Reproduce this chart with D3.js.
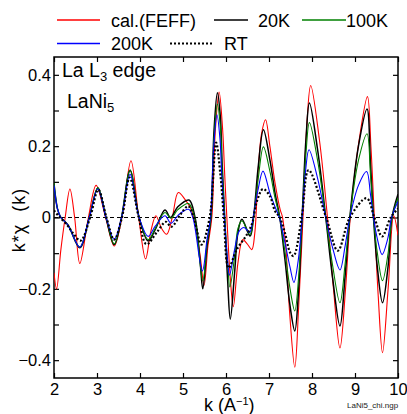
<!DOCTYPE html>
<html>
<head>
<meta charset="utf-8">
<script src="https://cdn.jsdelivr.net/npm/d3@7"></script>
<style>
  body { margin: 0; background: #fff; }
  svg { display: block; font-family: "Liberation Sans", Arial, sans-serif; }
</style>
</head>
<body>
<div id="chart1"><svg width="407" height="414"></svg></div>
<script>
// k (1/A) and k*chi(k), one pair of arrays per curve
const FEFF_K = [2.0, 2.06, 2.16, 2.26, 2.37, 2.48, 2.6, 2.8, 2.98, 3.2, 3.4, 3.58, 3.79, 3.97, 4.13, 4.25, 4.37, 4.5, 4.62, 4.75, 4.89, 5.05, 5.18, 5.28, 5.4, 5.49, 5.58, 5.67, 5.75, 5.84, 5.92, 5.97, 6.02, 6.1, 6.17, 6.28, 6.39, 6.5, 6.6, 6.67, 6.75, 6.83, 6.92, 7.02, 7.14, 7.26, 7.31, 7.39, 7.48, 7.6, 7.69, 7.79, 7.88, 7.97, 8.17, 8.36, 8.5, 8.65, 8.78, 8.89, 9.1, 9.29, 9.37, 9.45, 9.54, 9.64, 9.77, 9.9, 10.0];
const FEFF_CHI = [-0.155, -0.2, -0.09, 0.0, 0.08, 0.0, -0.129, 0.0, 0.09, 0.0, -0.08, 0.0, 0.159, 0.0, -0.116, -0.04, 0.005, -0.03, -0.047, 0.0, 0.07, 0.05, 0.025, -0.015, -0.108, -0.19, -0.08, 0.0, 0.24, 0.352, 0.25, 0.12, 0.0, -0.17, -0.25, -0.125, -0.062, -0.075, -0.09, -0.043, 0.134, 0.237, 0.274, 0.2, 0.097, 0.022, 0.003, -0.08, -0.267, -0.42, -0.25, 0.0, 0.26, 0.37, 0.22, 0.0, -0.2, -0.366, -0.2, 0.0, 0.22, 0.339, 0.2, 0.0, -0.22, -0.379, -0.2, 0.005, -0.05];

const K20_K = [2.0, 2.08, 2.15, 2.33, 2.6, 2.82, 3.02, 3.21, 3.4, 3.57, 3.77, 3.98, 4.19, 4.35, 4.58, 4.71, 4.88, 5.14, 5.28, 5.4, 5.46, 5.56, 5.65, 5.72, 5.8, 5.87, 5.91, 5.97, 6.04, 6.1, 6.2, 6.28, 6.37, 6.56, 6.64, 6.75, 6.87, 7.02, 7.14, 7.25, 7.37, 7.49, 7.6, 7.69, 7.77, 7.86, 7.94, 8.13, 8.32, 8.48, 8.65, 8.77, 8.88, 9.08, 9.28, 9.36, 9.43, 9.52, 9.64, 9.77, 9.86, 10.0];
const K20_CHI = [0.095, 0.025, 0.002, -0.022, -0.085, 0.0, 0.083, 0.0, -0.076, 0.0, 0.132, 0.0, -0.066, -0.035, 0.021, 0.0, 0.03, 0.049, 0.0, -0.127, -0.2, -0.08, 0.0, 0.24, 0.35, 0.28, 0.15, 0.0, -0.18, -0.285, -0.155, -0.04, -0.005, -0.052, 0.0, 0.143, 0.246, 0.162, 0.069, 0.0, -0.117, -0.248, -0.318, -0.2, 0.0, 0.22, 0.321, 0.19, 0.0, -0.17, -0.304, -0.164, 0.0, 0.2, 0.304, 0.15, 0.0, -0.14, -0.239, -0.136, 0.0, 0.065];

const K100_K = [2.0, 2.08, 2.15, 2.33, 2.6, 2.82, 3.02, 3.21, 3.4, 3.57, 3.77, 3.98, 4.19, 4.35, 4.58, 4.72, 4.88, 5.13, 5.27, 5.46, 5.56, 5.65, 5.72, 5.8, 5.87, 5.91, 5.97, 6.04, 6.09, 6.2, 6.28, 6.37, 6.56, 6.64, 6.75, 6.87, 7.02, 7.14, 7.25, 7.37, 7.49, 7.6, 7.69, 7.77, 7.86, 7.94, 8.13, 8.32, 8.48, 8.65, 8.77, 8.88, 9.08, 9.28, 9.36, 9.43, 9.52, 9.64, 9.77, 9.86, 10.0];
const K100_CHI = [0.097, 0.025, 0.002, -0.022, -0.083, 0.0, 0.083, 0.0, -0.074, 0.0, 0.134, 0.0, -0.062, -0.032, 0.014, -0.002, 0.022, 0.039, 0.0, -0.178, -0.07, 0.0, 0.22, 0.318, 0.25, 0.13, 0.0, -0.13, -0.195, -0.11, -0.03, -0.009, -0.048, 0.0, 0.11, 0.198, 0.13, 0.055, 0.0, -0.095, -0.2, -0.262, -0.165, 0.0, 0.18, 0.266, 0.16, 0.0, -0.135, -0.239, -0.13, 0.0, 0.16, 0.235, 0.12, 0.0, -0.1, -0.177, -0.1, 0.0, 0.055];

const K200_K = [2.0, 2.08, 2.15, 2.33, 2.6, 2.82, 3.02, 3.21, 3.4, 3.57, 3.77, 3.98, 4.19, 4.35, 4.58, 4.72, 4.9, 5.13, 5.23, 5.45, 5.56, 5.64, 5.71, 5.79, 5.86, 5.9, 5.96, 6.03, 6.08, 6.2, 6.3, 6.42, 6.55, 6.63, 6.74, 6.86, 7.02, 7.14, 7.24, 7.37, 7.49, 7.58, 7.68, 7.77, 7.85, 7.93, 8.13, 8.32, 8.48, 8.65, 8.77, 8.88, 9.08, 9.27, 9.36, 9.43, 9.52, 9.63, 9.76, 9.85, 10.0];
const K200_CHI = [0.09, 0.025, 0.002, -0.022, -0.083, 0.0, 0.08, 0.0, -0.061, 0.0, 0.121, 0.0, -0.053, -0.025, 0.005, -0.016, 0.008, 0.023, 0.0, -0.15, -0.06, 0.0, 0.19, 0.288, 0.22, 0.12, 0.0, -0.11, -0.162, -0.09, -0.04, -0.028, -0.042, 0.0, 0.075, 0.13, 0.069, 0.03, 0.0, -0.07, -0.14, -0.182, -0.12, 0.0, 0.13, 0.19, 0.11, 0.0, -0.085, -0.147, -0.08, 0.0, 0.09, 0.129, 0.065, 0.0, -0.06, -0.104, -0.06, 0.0, 0.045];

const RT_K = [2.0, 2.1, 2.3, 2.45, 2.62, 2.84, 3.03, 3.22, 3.4, 3.58, 3.76, 3.97, 4.15, 4.4, 4.6, 4.73, 4.95, 5.12, 5.25, 5.43, 5.62, 5.77, 5.87, 5.95, 6.06, 6.25, 6.5, 6.62, 6.71, 6.86, 7.02, 7.14, 7.25, 7.37, 7.49, 7.57, 7.76, 7.92, 8.33, 8.6, 8.88, 9.27, 9.45, 9.63, 9.83, 10.0];
const RT_CHI = [0.02, 0.005, -0.02, -0.045, -0.065, 0.0, 0.078, 0.0, -0.062, 0.0, 0.112, 0.0, -0.075, -0.04, -0.012, -0.026, 0.01, 0.032, 0.0, -0.076, 0.0, 0.21, 0.12, 0.0, -0.141, -0.09, -0.045, -0.012, 0.042, 0.08, 0.06, 0.018, 0.0, -0.043, -0.098, -0.108, 0.0, 0.133, 0.0, -0.093, 0.0, 0.054, 0.0, -0.053, 0.0, 0.025];

const SERIES_NAMES = ['cal.(FEFF)', '20K', '100K', '200K', 'RT'];
const SERIES_COLORS = ['#ff0000', '#000000', '#008000', '#0000ff', '#000000'];

const X_TICKS = [2, 3, 4, 5, 6, 7, 8, 9, 10];
const Y_TICKS = [-0.4, -0.3, -0.2, -0.1, 0, 0.1, 0.2, 0.3, 0.4];
const Y_LABELS = ['\u22120.4', '', '\u22120.2', '', '0', '', '0.2', '', '0.4'];

const SVG1 = d3.select('#chart1 svg');
// plot box inside the 407x414 picture
const LEFT = 54, RIGHT = 398, TOP = 57, BOTTOM = 378;
const TICK = 5;

const X_SCALE = d3.scaleLinear().domain([2, 10]).range([LEFT, RIGHT]);
const Y_SCALE = d3.scaleLinear().domain([-0.45, 0.45]).range([BOTTOM, TOP]);

const SERIES = [
    { k: FEFF_K, chi: FEFF_CHI, width: 1.1, dash: null },
    { k: K20_K, chi: K20_CHI, width: 1.5, dash: null },
    { k: K100_K, chi: K100_CHI, width: 1.1, dash: null },
    { k: K200_K, chi: K200_CHI, width: 1.1, dash: null },
    { k: RT_K, chi: RT_CHI, width: 2.2, dash: '2 2' }
].map((s, i) => ({
    ...s,
    name: SERIES_NAMES[i],
    color: SERIES_COLORS[i],
    points: s.k.map((k, j) => ({ k: k, chi: s.chi[j] }))
}));

const buildAxes = () => {
    const fmtY = d => Y_LABELS[Y_TICKS.indexOf(d)];

    const left = d3.axisLeft(Y_SCALE).tickValues(Y_TICKS).tickFormat(fmtY)
        .tickSizeInner(-TICK).tickSizeOuter(0).tickPadding(3);
    const right = d3.axisRight(Y_SCALE).tickValues(Y_TICKS).tickFormat('')
        .tickSizeInner(-TICK).tickSizeOuter(0);
    const bottom = d3.axisBottom(X_SCALE).tickValues(X_TICKS).tickFormat(d3.format('d'))
        .tickSizeInner(-TICK).tickSizeOuter(0).tickPadding(5);
    const top = d3.axisTop(X_SCALE).tickValues(X_TICKS).tickFormat('')
        .tickSizeInner(-TICK).tickSizeOuter(0);

    const groups = [
        [left, `translate(${LEFT},0)`],
        [right, `translate(${RIGHT},0)`],
        [bottom, `translate(0,${BOTTOM})`],
        [top, `translate(0,${TOP})`]
    ];
    groups.forEach(([axis, tr]) => {
        const g = SVG1.append('g').attr('transform', tr).call(axis);
        g.select('.domain').remove();
        g.selectAll('line').attr('stroke', '#000').attr('stroke-width', 1.2);
        g.selectAll('text').attr('fill', '#000').style('font-size', '16.5px')
            .style('font-family', '"Liberation Sans", Arial, sans-serif');
    });

    // frame
    SVG1.append('rect')
        .attr('x', LEFT).attr('y', TOP)
        .attr('width', RIGHT - LEFT).attr('height', BOTTOM - TOP)
        .attr('fill', 'none').attr('stroke', '#000').attr('stroke-width', 1.5);

    // zero line
    SVG1.append('line')
        .attr('x1', LEFT).attr('x2', RIGHT)
        .attr('y1', Y_SCALE(0)).attr('y2', Y_SCALE(0))
        .attr('stroke', '#000').attr('stroke-width', 1)
        .attr('stroke-dasharray', '4 3');
}

const buildLines = () => {
    SVG1.append('clipPath').attr('id', 'plotClip')
        .append('rect')
        .attr('x', LEFT).attr('y', TOP)
        .attr('width', RIGHT - LEFT).attr('height', BOTTOM - TOP);

    const line = d3.line()
        .x(d => X_SCALE(d.k))
        .y(d => Y_SCALE(d.chi))
        .curve(d3.curveCatmullRom.alpha(0.5));

    SVG1.append('g')
        .attr('id', 'lineChart')
        .attr('clip-path', 'url(#plotClip)')
        .selectAll('path')
        .data(SERIES)
        .join('path')
        .attr('d', d => line(d.points))
        .style('fill', 'none')
        .style('stroke', d => d.color)
        .style('stroke-width', d => d.width)
        .style('stroke-dasharray', d => d.dash);
}

const buildLegend = () => {
    // line start, line end, text x, row y for each entry
    const POS = [
        [57, 100, 111, 20],
        [214, 248, 258, 20],
        [302, 346, 346, 20],
        [57, 100, 111, 43.5],
        [170, 212, 224, 43.5]
    ];
    const g = SVG1.append('g').attr('id', 'legend');
    SERIES.forEach((s, i) => {
        const [x1, x2, tx, y] = POS[i];
        g.append('line')
            .attr('x1', x1).attr('x2', x2).attr('y1', y).attr('y2', y)
            .style('stroke', s.color)
            .style('stroke-width', s.dash ? 2 : 1.4)
            .style('stroke-dasharray', s.dash);
        g.append('text')
            .attr('x', tx).attr('y', y + 6.5)
            .style('font-size', '18px')
            .text(s.name);
    });
}

const buildLabels = () => {
    const t1 = SVG1.append('text').attr('x', 62).attr('y', 77).style('font-size', '19.5px');
    t1.append('tspan').text('La L');
    t1.append('tspan').attr('dy', 4).style('font-size', '13px').text('3');
    t1.append('tspan').attr('dy', -4).text(' edge');

    const t2 = SVG1.append('text').attr('x', 67).attr('y', 108).style('font-size', '19.5px');
    t2.append('tspan').text('LaNi');
    t2.append('tspan').attr('dy', 4).style('font-size', '13px').text('5');

    // axis titles
    SVG1.append('text')
        .attr('transform', 'translate(25,220) rotate(-90)')
        .attr('text-anchor', 'middle')
        .attr('xml:space', 'preserve')
        .style('font-size', '18px')
        .style('letter-spacing', '1px')
        .text('k*\u03c7  (k)');

    const xt = SVG1.append('text').attr('x', 204).attr('y', 410.5).style('font-size', '18px');
    xt.append('tspan').text('k (A');
    xt.append('tspan').attr('dy', -5.5).style('font-size', '11px').text('\u22121');
    xt.append('tspan').attr('dy', 5.5).text(')');

    SVG1.append('text')
        .attr('x', 347).attr('y', 408)
        .style('font-size', '8px')
        .attr('fill', '#222')
        .text('LaNi5_chi.ngp');
}

buildAxes();
buildLines();
buildLegend();
buildLabels();
</script>
</body>
</html>
